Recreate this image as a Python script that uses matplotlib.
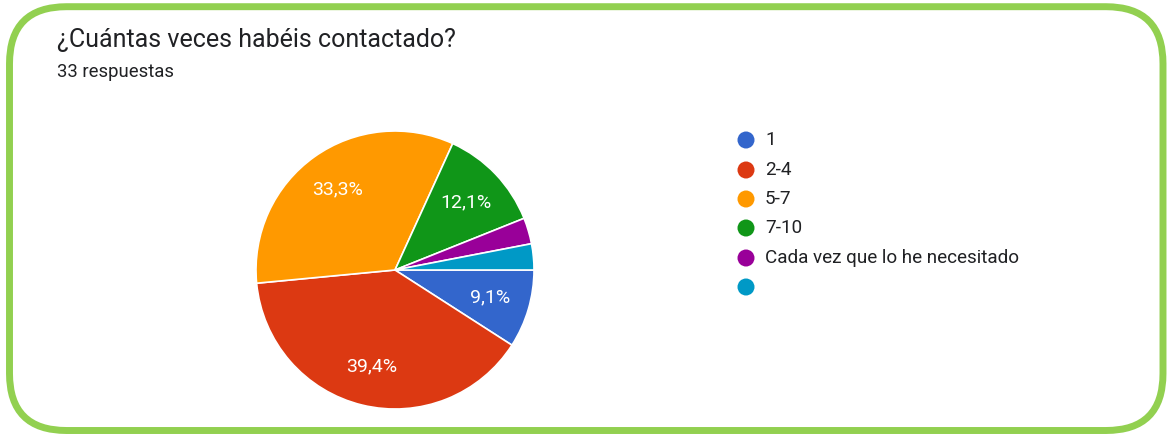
import matplotlib
matplotlib.use("Agg")
import matplotlib.pyplot as plt
from matplotlib.patches import FancyBboxPatch, Circle

# ---- data ----
categories = ["1", "2-4", "5-7", "7-10", "Cada vez que lo he necesitado", ""]
counts = [3, 13, 11, 4, 1, 1]
colors = ["#3366CC", "#DC3912", "#FF9900", "#109618", "#990099", "#0099C6"]
title = "¿Cuántas veces habéis contactado?"
subtitle = "33 respuestas"

plt.rcParams['font.family'] = ['Roboto', 'DejaVu Sans']

W, H = 1167, 434
fig = plt.figure(figsize=(W / 100, H / 100), dpi=100)
ax = fig.add_axes([0, 0, 1, 1])

def fmt(p):
    return (f"{p:.1f}%".replace('.', ',')) if p > 5 else ""

wedges, texts, autotexts = ax.pie(
    counts, colors=colors, startangle=0, counterclock=False,
    center=(395, H - 270), radius=139, autopct=fmt, pctdistance=0.71,
    wedgeprops=dict(edgecolor="white", linewidth=1.2),
    textprops=dict(color="white", fontsize=14))

ax.set_xlim(0, W)
ax.set_ylim(0, H)
ax.set_aspect('auto')
ax.axis('off')

# border
border = FancyBboxPatch((9.5, H - 430.5), 1163 - 9.5, 430.5 - 6.7,
                        boxstyle="round,pad=0,rounding_size=57",
                        transform=ax.transData, facecolor="none",
                        edgecolor="#92D050", linewidth=5.0, clip_on=False)
ax.add_patch(border)

# titles
ax.text(57, H - 40, title, fontsize=18, color="#202124", va="center", ha="left")
ax.text(57, H - 72, subtitle, fontsize=13.3, color="#202124", va="center", ha="left")

# legend
ys = [140, 170, 199, 228, 258, 287]
for cat, col, y in zip(categories, colors, ys):
    ax.add_patch(Circle((746, H - y), 8.5, facecolor=col, edgecolor="none"))
    ax.text(765, H - y, cat, fontsize=13.6, color="#202124", va="center", ha="left")

fig.savefig("out.png", dpi=100)
